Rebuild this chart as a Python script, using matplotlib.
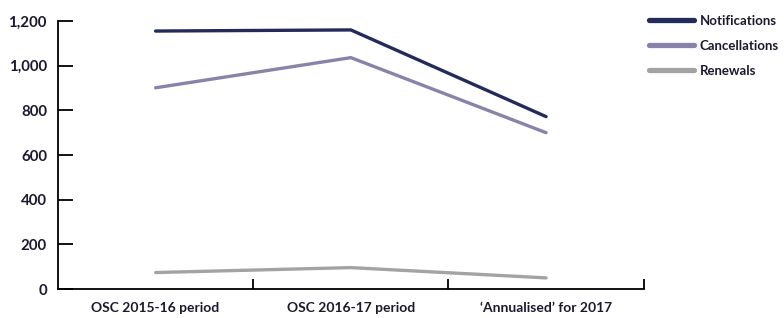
import matplotlib.pyplot as plt
from matplotlib.ticker import FuncFormatter, FixedLocator

# Data
periods = ['OSC 2015-16 period', 'OSC 2016-17 period', '\u2018Annualised\u2019 for 2017']
notifications = [1155, 1160, 772]
cancellations = [901, 1036, 700]
renewals = [74, 96, 50]

plt.rcParams['font.family'] = ['Lato', 'DejaVu Sans']
text_color = '#1a1a2e'

fig = plt.figure(figsize=(7.84, 3.18), dpi=100)
ax = fig.add_axes([0.074, 0.091, 0.747, 0.843])

x = range(len(periods))
ax.plot(x, notifications, color='#222b5a', lw=2.4, label='Notifications', solid_capstyle='round')
ax.plot(x, cancellations, color='#8a82a8', lw=2.4, label='Cancellations', solid_capstyle='round')
ax.plot(x, renewals, color='#a3a3a3', lw=2.4, label='Renewals', solid_capstyle='round')

ax.set_xlim(-0.5, len(periods) - 0.5)
ax.set_ylim(0, 1200)
ax.set_yticks(range(0, 1201, 200))
ax.yaxis.set_major_formatter(FuncFormatter(lambda v, p: f'{int(v):,}'))
ax.set_xticks(list(x))
ax.set_xticklabels(periods)
ax.xaxis.set_minor_locator(FixedLocator([0.5, 1.5, 2.5]))

ax.tick_params(axis='y', direction='in', length=11, width=1.3, pad=8,
               labelsize=10.8, labelcolor=text_color)
ax.tick_params(axis='x', which='major', length=0, pad=9, labelsize=10, labelcolor=text_color)
ax.tick_params(axis='x', which='minor', direction='in', length=7, width=1.3)
for lbl in ax.get_yticklabels() + ax.get_xticklabels():
    lbl.set_fontweight('bold')

for s in ['top', 'right']:
    ax.spines[s].set_visible(False)
for s in ['left', 'bottom']:
    ax.spines[s].set_linewidth(1.3)

leg = fig.legend(loc='upper left', bbox_to_anchor=(0.819, 0.975), frameon=False,
                 handlelength=3.4, handletextpad=0.45, labelspacing=1.0,
                 fontsize=9.5, borderpad=0)
for line in leg.get_lines():
    line.set_linewidth(3.8)
for t in leg.get_texts():
    t.set_color(text_color)
    t.set_fontweight('bold')

fig.savefig('out.png', dpi=100)
